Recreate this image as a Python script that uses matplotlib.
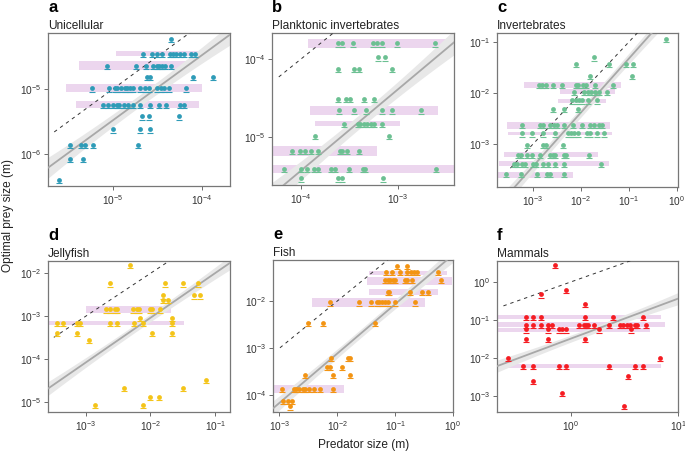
import numpy as np
import matplotlib.pyplot as plt
from matplotlib.transforms import ScaledTranslation

plt.rcParams['font.family'] = ['Liberation Sans', 'DejaVu Sans']
plt.rcParams['mathtext.default'] = 'regular'

# values are log10 sizes in metres: (prey size, [predator sizes]) rows
a_rows = [
    (-4.23, [-4.35]),
    (-4.46, [-4.66, -4.56, -4.51, -4.45, -4.36, -4.33, -4.29, -4.25, -4.20, -4.12, -4.08]),
    (-4.64, [-5.07, -4.74, -4.63, -4.55, -4.51, -4.48, -4.45, -4.42, -4.35]),
    (-4.82, [-4.62, -4.58, -4.10, -3.88]),
    (-4.99, [-5.23, -5.04, -4.98, -4.96, -4.91, -4.87, -4.84, -4.81, -4.77, -4.70,
             -4.64, -4.60, -4.51, -4.46, -4.43, -4.37, -4.18]),
    (-5.24, [-5.11, -5.06, -5.00, -4.96, -4.93, -4.88, -4.83, -4.78, -4.70, -4.58,
             -4.48, -4.40, -4.25, -4.20]),
    (-5.42, [-4.67, -4.60, -4.26]),
    (-5.62, [-5.00, -4.70, -4.58]),
    (-5.86, [-5.48, -5.36, -5.31, -5.22, -4.72]),
    (-6.07, [-5.48, -5.34]),
    (-6.40, [-5.61]),
]
b_rows = [
    (-3.80, [-3.62, -3.58, -3.46, -3.26, -3.22, -3.16, -3.01, -2.62]),
    (-3.98, [-3.21, -3.13]),
    (-4.13, [-3.62, -3.45, -3.40, -3.06]),
    (-4.51, [-3.62, -3.54, -3.49, -3.35, -3.25]),
    (-4.66, [-3.61, -3.45, -3.33, -3.16, -3.06, -2.76]),
    (-4.83, [-3.56, -3.41, -3.39, -3.35, -3.32, -3.28, -3.25, -3.16]),
    (-4.99, [-3.86, -3.09]),
    (-5.18, [-4.09, -4.01, -3.96, -3.90, -3.83, -3.60, -3.58, -3.53, -3.40]),
    (-5.41, [-4.18, -4.00, -3.94, -3.87, -3.83, -3.69, -3.65, -3.50, -3.36, -3.34, -2.61]),
    (-5.53, [-4.00, -3.62, -3.58, -3.15]),
]
c_rows = [
    (-0.94, [-0.22]),
    (-1.30, [-1.72]),
    (-1.43, [-2.10, -1.41, -1.06, -0.90]),
    (-1.66, [-1.81, -0.94]),
    (-1.84, [-2.88, -2.80, -2.73, -2.59, -2.40, -2.10, -2.05, -1.96, -1.89, -1.70, -1.32]),
    (-1.97, [-2.14, -1.93, -1.85, -1.79, -1.70, -1.62, -1.46]),
    (-2.14, [-2.19, -2.10, -2.04, -1.98, -1.84, -1.67]),
    (-2.31, [-2.59, -2.35, -2.05]),
    (-2.63, [-3.23, -2.86, -2.79, -2.65, -2.57, -2.50, -2.36, -2.17, -1.98, -1.81,
             -1.72, -1.63, -1.56]),
    (-2.79, [-3.22, -3.01, -2.78, -2.54, -2.26, -2.21, -2.14, -2.06, -1.88, -1.81,
             -1.67, -1.51]),
    (-3.02, [-3.13, -2.78, -2.73, -2.38]),
    (-3.21, [-3.32, -3.24, -3.13, -3.02, -2.85, -2.64, -2.59, -2.54, -2.36, -2.31, -1.82]),
    (-3.39, [-3.40, -3.33, -3.23, -3.16, -2.99, -2.93, -2.78, -2.69, -2.54, -2.36, -1.58]),
    (-3.59, [-3.56, -3.24, -2.92, -2.71, -2.65, -2.35]),
]
d_rows = [
    (-1.81, [-2.31]),
    (-2.23, [-2.62, -1.77, -1.50, -1.26]),
    (-2.51, [-1.80, -1.33, -1.24]),
    (-2.62, [-1.80, -1.72]),
    (-2.84, [-2.69, -2.62, -2.54, -2.51, -2.26, -2.21, -2.18, -2.00, -1.97, -1.85]),
    (-3.03, [-2.16, -1.66]),
    (-3.15, [-3.44, -3.35, -3.13, -3.08, -2.62, -2.51, -2.25, -2.11, -1.66]),
    (-3.38, [-3.44, -3.13, -1.98, -1.67]),
    (-3.55, [-2.95]),
    (-4.49, [-1.14]),
    (-4.67, [-2.40, -1.50]),
    (-4.88, [-2.01, -1.87]),
    (-5.07, [-2.86, -2.12]),
]
e_rows = [
    (-1.26, [-0.96, -0.79]),
    (-1.39, [-1.15, -1.05, -0.92, -0.79, -0.72, -0.67, -0.63, -0.26]),
    (-1.56, [-1.18, -1.13, -1.09, -1.03, -1.00, -0.83, -0.79, -0.71, -0.20]),
    (-1.80, [-1.13, -1.11, -0.75, -0.53, -0.43]),
    (-2.03, [-2.12, -1.62, -1.42, -1.32, -1.28, -1.23, -1.18, -1.13, -1.00, -0.66]),
    (-2.47, [-2.50, -2.24, -1.34]),
    (-3.21, [-2.11, -1.82, -1.78]),
    (-3.39, [-2.18, -2.12, -1.91]),
    (-3.57, [-2.55, -2.08, -1.78]),
    (-3.86, [-2.95, -2.75, -2.71, -2.66, -2.60, -2.55, -2.48, -2.41, -2.29, -2.08]),
    (-4.11, [-2.93, -2.85, -2.79]),
    (-4.23, [-2.81]),
]
f_rows = [
    (0.44, [-0.15]),
    (-0.20, [-0.05]),
    (-0.33, [-0.28]),
    (-0.57, [0.13]),
    (-0.92, [-0.42, -0.35, -0.28, 0.13, 0.39, 0.67]),
    (-1.12, [-0.42, -0.35, -0.28, -0.21, -0.18, 0.08, 0.12, 0.14, 0.16, 0.22, 0.36,
             0.46, 0.49, 0.52, 0.55, 0.60, 0.62, 0.70]),
    (-1.25, [-0.42, -0.21, -0.11, -0.08, -0.05, 0.26, 0.56]),
    (-1.49, [-0.42, -0.21, 0.13]),
    (-2.00, [-0.59, 0.83]),
    (-2.21, [-0.45, -0.35, -0.11, -0.05, 0.36, 0.60, 0.67]),
    (-2.47, [0.53]),
    (-2.61, [-0.35]),
    (-2.91, [-0.08]),
    (-3.26, [0.50]),
]

# pink bands: (predator low, predator high, prey low, prey high), log10
a_bands = [(-4.97, -3.91, -4.50, -4.42), (-5.38, -4.16, -4.71, -4.57),
           (-5.53, -4.00, -5.05, -4.92), (-5.42, -4.03, -5.29, -5.19)]
b_bands = [(-3.93, -2.42, -3.86, -3.75), (-3.91, -2.59, -4.72, -4.60),
           (-3.86, -2.98, -4.86, -4.80), (-4.30, -3.22, -5.24, -5.12),
           (-4.30, -2.42, -5.46, -5.36)]
c_bands = [(-3.18, -1.15, -1.90, -1.78), (-2.44, -1.29, -2.02, -1.92),
           (-2.47, -1.48, -2.20, -2.11), (-3.54, -1.38, -2.71, -2.56),
           (-3.52, -1.34, -2.82, -2.76), (-3.61, -1.65, -3.25, -3.16),
           (-3.70, -1.41, -3.43, -3.33), (-3.75, -2.17, -3.67, -3.54)]
d_bands = [(-2.99, -1.68, -2.92, -2.76), (-3.58, -1.48, -3.20, -3.11)]
e_bands = [(-1.45, -0.10, -1.45, -1.36), (-1.48, -0.02, -1.65, -1.49),
           (-1.45, -0.26, -1.87, -1.75), (-2.43, -0.49, -2.12, -1.94),
           (-3.11, -1.89, -3.95, -3.78)]
f_bands = [(-0.70, 0.84, -0.98, -0.86), (-0.70, 0.88, -1.18, -1.06),
           (-0.70, 0.74, -1.32, -1.20), (-0.70, 0.84, -2.26, -2.16)]

# fitted regression (slope, intercept) in log-log space
fits = {'a': (1.00, -0.48), 'b': (1.04, -1.27), 'c': (1.056, -0.27),
        'd': (1.043, -0.95), 'e': (1.046, -1.02), 'f': (1.05, -1.49)}
# where the dashed 1:1 line starts (log10 predator size)
one_to_one_start = {'a': -5.66, 'b': -4.23, 'c': -3.47, 'd': -3.49, 'e': -2.99, 'f': -0.63}

titles = {'a': 'Unicellular', 'b': 'Planktonic invertebrates', 'c': 'Invertebrates',
          'd': 'Jellyfish', 'e': 'Fish', 'f': 'Mammals'}

panels = [
    # key, rows, bands, colour, axes rect (px), xlim, ylim (log10)
    ('a', a_rows, a_bands, '#2e9bb7', (48, 33, 230, 186), (-5.73, -3.685), (-6.49, -4.14)),
    ('b', b_rows, b_bands, '#6cc092', (272, 33, 454, 185), (-4.30, -2.42), (-5.615, -3.667)),
    ('c', c_rows, c_bands, '#6cc092', (497, 33, 678, 187), (-3.75, 0.03), (-3.84, -0.82)),
    ('d', d_rows, d_bands, '#f4c419', (48, 261, 230, 412), (-3.58, -0.77), (-5.23, -1.71)),
    ('e', e_rows, e_bands, '#f39413', (273, 260, 453, 412), (-3.11, 0.0), (-4.35, -1.13)),
    ('f', f_rows, f_bands, '#f51c22', (497, 261, 678, 412), (-0.69, 1.0), (-3.42, 0.55)),
]

W, H = 685, 451
fig = plt.figure(figsize=(W / 100, H / 100), dpi=100)

for key, rows, bands, colour, (l, t, r, b), xl, yl in panels:
    ax = fig.add_axes([l / W, (H - b) / H, (r - l) / W, (b - t) / H])
    ax.set_xscale('log')
    ax.set_yscale('log')

    for x0, x1, y0, y1 in bands:
        ax.fill_between([10**x0, 10**x1], 10**y0, 10**y1, color='#ecd6ee', lw=0, zorder=1)

    xs = np.linspace(xl[0], xl[1], 100)
    m, c = fits[key]
    fit = m * xs + c
    u = (xs - xs.mean()) / (xs[-1] - xs.mean())
    hw = 0.09 + 0.07 * u**2
    ax.fill_between(10**xs, 10**(fit - hw), 10**(fit + hw), color='#e8e8e8', lw=0, zorder=2)
    ax.plot(10**xs, 10**fit, color='#a8a8a8', lw=1.3, zorder=3)

    xd = np.linspace(one_to_one_start[key], xl[1], 50)
    ax.plot(10**xd, 10**xd, color='#333333', lw=0.7, ls=(0, (3.5, 4)), zorder=3)

    px = np.array([x for y, row in rows for x in row])
    py = np.array([y for y, row in rows for x in row])
    cap = ax.transData + ScaledTranslation(0, -2.3 / 72, fig.dpi_scale_trans)
    ax.scatter(10**px, 10**py, marker='_', s=14, color=colour, lw=0.8, transform=cap, zorder=4)
    ax.scatter(10**px, 10**py, marker='o', s=12, color=colour, lw=0, zorder=5)

    ax.set_xlim(10**xl[0], 10**xl[1])
    ax.set_ylim(10**yl[0], 10**yl[1])
    ax.minorticks_off()
    ax.tick_params(labelsize=7.3, length=3, width=0.6, color='#555555', labelcolor='#333333', pad=2)
    for s in ax.spines.values():
        s.set_color('#777777')
        s.set_linewidth(0.9)

    ax.set_title(titles[key], loc='left', fontsize=8.6, pad=3, color='#222222')
    letter_pos = ax.transAxes + ScaledTranslation(0, 0.21, fig.dpi_scale_trans)
    ax.text(0, 1, key, transform=letter_pos, fontsize=12, fontweight='bold',
            va='baseline', ha='left')

fig.text(2 / W, 1 - 216 / H, 'Optimal prey size (m)', rotation=90, va='center',
         ha='left', fontsize=8.6, color='#222222')
fig.text(364 / W, 1 - 445 / H, 'Predator size (m)', va='center', ha='center',
         fontsize=8.6, color='#222222')

fig.savefig('out.png', dpi=100)
